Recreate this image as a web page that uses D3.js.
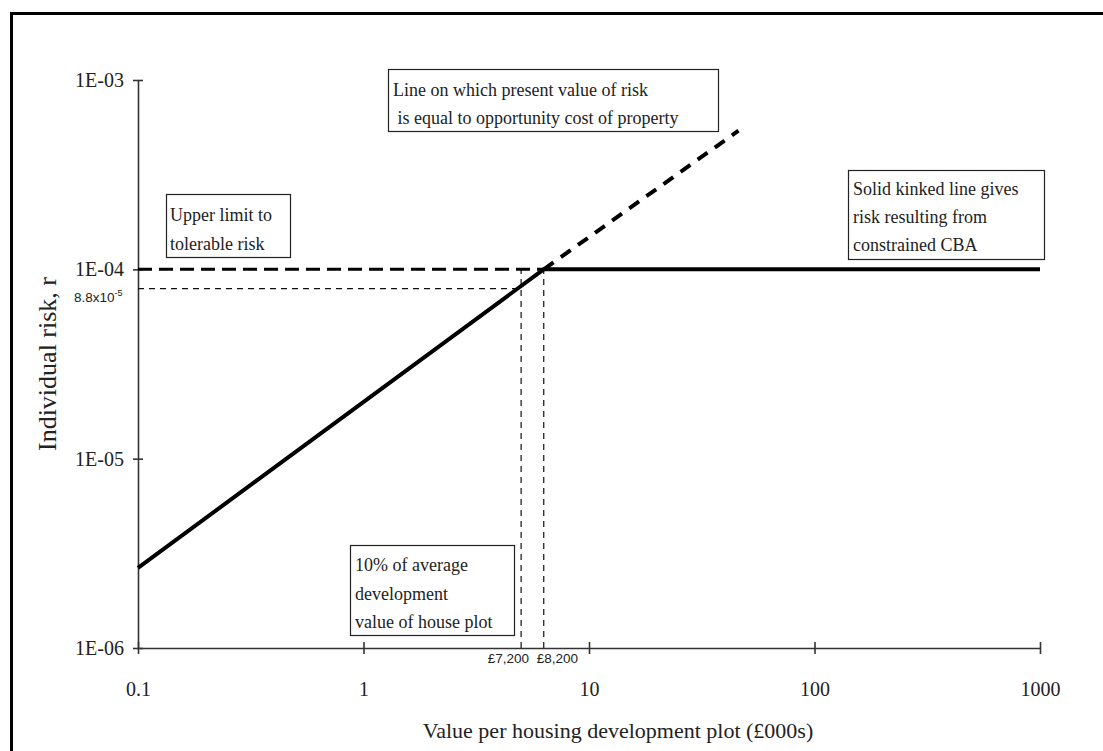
<!DOCTYPE html>
<html>
<head>
<meta charset="utf-8">
<script src="https://cdn.jsdelivr.net/npm/d3@7"></script>
<style>
  body { margin: 0; background: #fff; }
  svg text { font-family: "Liberation Serif", "Times New Roman", serif; fill: #222; }
  .small { font-family: "Liberation Sans", Arial, sans-serif !important; }
</style>
</head>
<body>
<div id="chart"></div>
<script>
// axis ticks
var xTicks = [0.1, 1, 10, 100, 1000];
var yTicks = [1e-6, 1e-5, 1e-4, 1e-3];
var yTickText = ["1E-06", "1E-05", "1E-04", "1E-03"];

// solid kinked line (risk from constrained CBA)
var kinkX = [0.1, 6.3, 1000];
var kinkR = [2.65e-6, 1e-4, 1e-4];
// dashed continuation: PV of risk = opportunity cost
var pvX = [6.3, 46];
var pvR = [1e-4, 5.4e-4];
// upper limit to tolerable risk
var limitX = [0.1, 6.3];
var limitR = [1e-4, 1e-4];
// reference markers
var markX = [5.0, 6.3];
var markXText = ["£7,200", "£8,200"];
var markR = 7.9e-5;

var W = 1103, H = 751;
var margin = { left: 138, right: 63, top: 80, bottom: 103 };

var svg = d3.select("#chart").append("svg")
    .attr("width", W)
    .attr("height", H);

// outer frame
svg.append("rect")
    .attr("x", 11.5).attr("y", 13.5)
    .attr("width", 1120).attr("height", 800)
    .attr("fill", "none")
    .attr("stroke", "#000")
    .attr("stroke-width", 3);

var x = d3.scaleLog()
    .domain([0.1, 1000])
    .range([margin.left, W - margin.right]);

var y = d3.scaleLog()
    .domain([1e-6, 1e-3])
    .range([H - margin.bottom, margin.top]);

// x axis
var xAxis = d3.axisBottom(x)
    .tickValues(xTicks)
    .tickFormat(function (d) { return d < 1 ? "0.1" : d3.format("d")(d); })
    .tickSizeInner(6)
    .tickSizeOuter(0)
    .tickPadding(28);

var gx = svg.append("g")
    .attr("transform", "translate(0," + y(1e-6) + ")")
    .call(xAxis);
gx.select(".domain").attr("stroke", "#333").attr("stroke-width", 1.6);
gx.selectAll(".tick line").attr("y1", -6).attr("stroke", "#333").attr("stroke-width", 1.6);
gx.selectAll(".tick text")
    .style("font-size", "20px")
    .attr("fill", "#222");

// y axis
var yAxis = d3.axisLeft(y)
    .tickValues(yTicks)
    .tickFormat(function (d, i) { return yTickText[i]; })
    .tickSizeInner(5)
    .tickSizeOuter(0)
    .tickPadding(9);

var gy = svg.append("g")
    .attr("transform", "translate(" + x(0.1) + ",0)")
    .call(yAxis);
gy.select(".domain").attr("stroke", "#333").attr("stroke-width", 1.6);
gy.selectAll(".tick line").attr("x1", 5).attr("stroke", "#333").attr("stroke-width", 1.6);
gy.selectAll(".tick text")
    .style("font-size", "20px")
    .attr("fill", "#222");

// axis titles
svg.append("text")
    .attr("x", 618).attr("y", 738)
    .attr("text-anchor", "middle")
    .style("font-size", "22px")
    .text("Value per housing development plot (£000s)");

svg.append("text")
    .attr("transform", "translate(56,364) rotate(-90)")
    .attr("text-anchor", "middle")
    .style("font-size", "26px")
    .attr("fill", "#333")
    .text("Individual risk, r");

var line = d3.line()
    .x(function (d) { return x(d[0]); })
    .y(function (d) { return y(d[1]); });

function pts(xs, rs) { return xs.map(function (v, i) { return [v, rs[i]]; }); }

// thin reference dashes
markX.forEach(function (v) {
    svg.append("path")
        .attr("d", line([[v, 1e-6], [v, 1e-4]]))
        .attr("fill", "none")
        .attr("stroke", "#111")
        .attr("stroke-width", 1.2)
        .attr("stroke-dasharray", "6,5");
});
svg.append("path")
    .attr("d", line([[0.1, markR], [markX[0], markR]]))
    .attr("fill", "none")
    .attr("stroke", "#111")
    .attr("stroke-width", 1.2)
    .attr("stroke-dasharray", "6,5");

// upper limit dashed
svg.append("path")
    .attr("d", line(pts(limitX, limitR)))
    .attr("fill", "none")
    .attr("stroke", "#000")
    .attr("stroke-width", 3)
    .attr("stroke-dasharray", "14,7");

// PV line dashed continuation
svg.append("path")
    .attr("d", line(pts(pvX, pvR)))
    .attr("fill", "none")
    .attr("stroke", "#000")
    .attr("stroke-width", 4)
    .attr("stroke-dasharray", "12,9");

// solid kinked line
svg.append("path")
    .attr("d", line(pts(kinkX, kinkR)))
    .attr("fill", "none")
    .attr("stroke", "#000")
    .attr("stroke-width", 4);

// marker labels
svg.append("text")
    .attr("class", "small")
    .attr("x", x(markX[0]) + 8).attr("y", 663)
    .attr("text-anchor", "end")
    .style("font-size", "13.5px")
    .text(markXText[0]);
svg.append("text")
    .attr("class", "small")
    .attr("x", x(markX[1]) - 7).attr("y", 663)
    .attr("text-anchor", "start")
    .style("font-size", "13.5px")
    .text(markXText[1]);

var yl = svg.append("text")
    .attr("class", "small")
    .attr("x", 74).attr("y", y(markR) + 13)
    .style("font-size", "13.5px");
yl.append("tspan").text("8.8x10");
yl.append("tspan").attr("dy", -6).style("font-size", "9px").text("-5");

// annotation boxes
function box(x0, y0, w, h, lines, tx, ty, lh) {
    svg.append("rect")
        .attr("x", x0 + 0.5).attr("y", y0 + 0.5)
        .attr("width", w).attr("height", h)
        .attr("fill", "#fff")
        .attr("stroke", "#222")
        .attr("stroke-width", 1.2);
    lines.forEach(function (t, i) {
        svg.append("text")
            .attr("x", tx).attr("y", ty + i * lh)
            .style("font-size", "18px")
            .attr("xml:space", "preserve")
            .style("white-space", "pre")
            .text(t);
    });
}

box(166, 194, 124, 63, ["Upper limit to", "tolerable risk"], 170, 221, 29);
box(388, 69, 330, 62, ["Line on which present value of risk", " is equal to opportunity cost of property"], 393, 96, 28);
box(848, 170, 196, 89, ["Solid kinked line gives", "risk resulting from", "constrained CBA"], 853, 195, 28);
box(350, 545, 164, 90, ["10% of average", "development", "value of house plot"], 355, 571, 28.5);
</script>
</body>
</html>
